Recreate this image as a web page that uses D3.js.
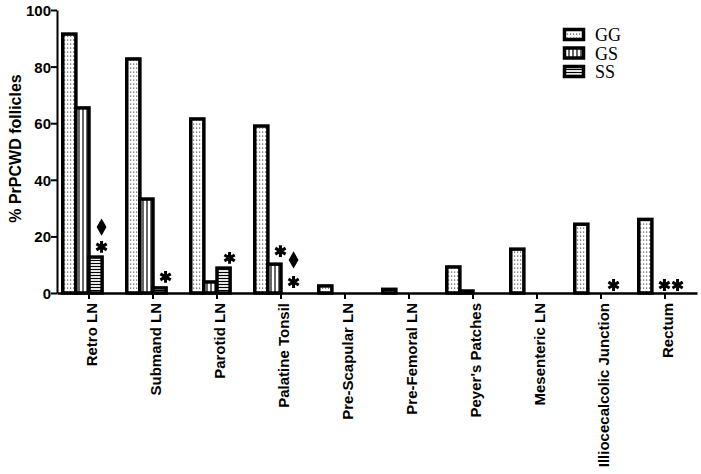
<!DOCTYPE html>
<html lang="en">
<head>
  <meta charset="utf-8" />
  <title>% PrPCWD follicles by tissue</title>
  <style>
    html,body{margin:0;padding:0;background:#fff;}
    svg{display:block;}
    .tick text{font-family:Arial,"Liberation Sans",sans-serif;font-weight:bold;font-size:15px;fill:#000;}
    .ytitle{font-family:Arial,"Liberation Sans",sans-serif;font-weight:bold;font-size:16px;}
    .legend text{font-family:"Times New Roman","Liberation Serif",serif;font-size:18px;}
  </style>
</head>
<body>
  <svg id="chart" width="701" height="474"></svg>

  <script src="https://d3js.org/d3.v7.min.js"></script>
  <script>
    // ————— DATA —————
    const categories = ['Retro LN','Submand LN','Parotid LN','Palatine Tonsil','Pre-Scapular LN',
                        'Pre-Femoral LN',"Peyer's Patches",'Mesenteric LN','Illiocecalcolic Junction','Rectum'];
    const series = ['GG','GS','SS'];
    const ggValues = [91.5, 82.7, 61.5, 59.0, 2.5, 1.3, 9.2, 15.5, 24.3, 26.0];
    const gsValues = [65.4, 33.2, 3.9, 10.2, 0, 0, 0.7, 0, 0, 0];
    const ssValues = [12.7, 1.8, 8.8, 0, 0, 0, 0, 0, 0, 0];
    const yTicks = [0, 20, 40, 60, 80, 100];
    // significance marks: category, series column, symbol, height in % units
    const marks = [
      {cat:'Retro LN', s:'SS', sym:'diamond', v:23.3},
      {cat:'Retro LN', s:'SS', sym:'star', v:16.3},
      {cat:'Submand LN', s:'SS', sym:'star', v:5.7},
      {cat:'Parotid LN', s:'SS', sym:'star', v:12.4},
      {cat:'Palatine Tonsil', s:'GS', sym:'star', v:14.8},
      {cat:'Palatine Tonsil', s:'SS', sym:'diamond', v:11.7},
      {cat:'Palatine Tonsil', s:'SS', sym:'star', v:3.9},
      {cat:'Illiocecalcolic Junction', s:'SS', sym:'star', v:2.8},
      {cat:'Rectum', s:'GS', sym:'star', v:2.8},
      {cat:'Rectum', s:'SS', sym:'star', v:2.8}
    ];

    const valuesBySeries = {GG: ggValues, GS: gsValues, SS: ssValues};
    const fills = {GG:'url(#dots)', GS:'url(#vlines)', SS:'url(#hlines)'};

    // ————— LAYOUT —————
    const svg = d3.select('#chart');
    const margin = {top:10, left:57, right:4, bottom:181};
    const W = 701 - margin.left - margin.right, H = 474 - margin.top - margin.bottom;
    const g = svg.append('g').attr('transform',`translate(${margin.left},${margin.top})`);

    // ————— PATTERNS —————
    const defs = svg.append('defs');
    const dots = defs.append('pattern').attr('id','dots').attr('patternUnits','userSpaceOnUse')
      .attr('width',3).attr('height',4);
    dots.append('rect').attr('width',3).attr('height',4).attr('fill','#fff');
    dots.append('rect').attr('x',1).attr('y',1.5).attr('width',1.2).attr('height',1.2).attr('fill','#555');
    const vl = defs.append('pattern').attr('id','vlines').attr('patternUnits','userSpaceOnUse')
      .attr('width',4).attr('height',4);
    vl.append('rect').attr('width',4).attr('height',4).attr('fill','#fff');
    vl.append('line').attr('x1',2).attr('x2',2).attr('y1',0).attr('y2',4).attr('stroke','#000').attr('stroke-width',1.2);
    const hl = defs.append('pattern').attr('id','hlines').attr('patternUnits','userSpaceOnUse')
      .attr('width',4).attr('height',3);
    hl.append('rect').attr('width',4).attr('height',3).attr('fill','#fff');
    hl.append('line').attr('x1',0).attr('x2',4).attr('y1',1.5).attr('y2',1.5).attr('stroke','#000').attr('stroke-width',1.2);

    // ————— SCALES —————
    const x = d3.scaleBand().domain(categories).range([0, W]).padding(0);
    const barW = x.bandwidth()*0.205;
    const x1 = d3.scaleBand().domain(series)
      .range([x.bandwidth()/2 - 2*barW, x.bandwidth()/2 + barW]).padding(0);
    const y = d3.scaleLinear().domain([0,100]).range([H,0]);

    // ————— AXES —————
    const yAxis = g.append('g').attr('class','y axis')
      .call(d3.axisLeft(y).tickValues(yTicks).tickSize(6).tickSizeOuter(0).tickFormat(d3.format('d')));
    yAxis.select('.domain').attr('stroke','#000').attr('stroke-width',2);
    yAxis.selectAll('.tick line').attr('stroke-width',2);
    yAxis.selectAll('.tick text').attr('x',-6).attr('dy','0.36em');

    const xAxis = g.append('g').attr('class','x axis').attr('transform',`translate(0,${H})`)
      .call(d3.axisBottom(x).tickSize(6).tickSizeOuter(0));
    xAxis.select('.domain').attr('stroke','#000').attr('stroke-width',2.5);
    xAxis.selectAll('.tick line').attr('stroke-width',2);
    xAxis.selectAll('.tick text')
      .attr('transform','rotate(-90)')
      .attr('text-anchor','end')
      .attr('x',-10).attr('y',0).attr('dy','0.5em');

    g.append('text').attr('class','ytitle')
      .attr('transform',`translate(-36,${H/2 - 3}) rotate(-90)`)
      .attr('text-anchor','middle')
      .text('% PrPCWD follicles');

    // ————— BARS —————
    const bars = [];
    categories.forEach((c,i)=>series.forEach(s=>{
      const v = valuesBySeries[s][i];
      if(v>0) bars.push({cat:c, s, v});
    }));
    g.append('g').selectAll('rect').data(bars).join('rect')
      .attr('x', d=>x(d.cat)+x1(d.s))
      .attr('width', x1.bandwidth())
      .attr('y', d=>y(d.v))
      .attr('height', d=>H - y(d.v))
      .attr('fill', d=>fills[d.s])
      .attr('stroke','#000').attr('stroke-width',3.5)
      .attr('stroke-linejoin','miter');

    // ————— SIGNIFICANCE MARKS —————
    g.append('g').selectAll('path').data(marks).join('path')
      .attr('transform', d=>`translate(${x(d.cat)+x1(d.s)+x1.bandwidth()/2+6},${y(d.v)})`)
      .attr('d', d=> d.sym==='star'
        ? d3.symbol(d3.symbolAsterisk, 100)()
        : d3.symbol(d3.symbolDiamond, 85)())
      .attr('fill', d=> d.sym==='star' ? 'none' : '#000')
      .attr('stroke','#000')
      .attr('stroke-width', d=> d.sym==='star' ? 3 : 0);

    // ————— LEGEND —————
    const legend = svg.append('g').attr('class','legend').attr('transform','translate(563,28)');
    const li = legend.selectAll('g').data(series).join('g')
      .attr('transform',(d,i)=>`translate(0,${i*18.5})`);
    li.append('rect').attr('x',1.5).attr('y',1.5).attr('width',19).attr('height',10)
      .attr('fill',d=>fills[d]).attr('stroke','#000').attr('stroke-width',3.5);
    li.append('text').attr('x',32).attr('y',13).text(d=>d);
  </script>
</body>
</html>
